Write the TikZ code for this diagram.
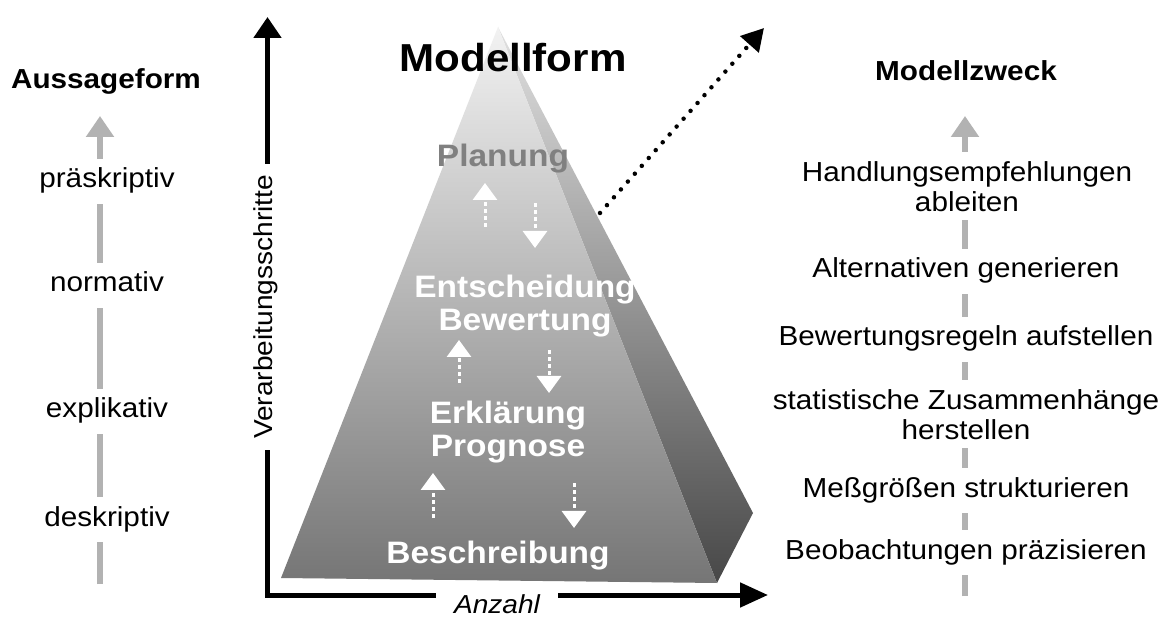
\documentclass[tikz,border=0pt]{standalone}
\usepackage{fontspec}
\setmainfont{Liberation Sans}[FakeStretch=1.08]
\usetikzlibrary{arrows.meta}

\begin{document}
\begin{tikzpicture}[
      x=1pt, y=-1pt,
      hdr/.style={font=\fontsize{27.5}{31}\selectfont\bfseries, anchor=base},
      lbl/.style={font=\fontsize{27.5}{30}\selectfont, fill=white, inner xsep=3pt, inner ysep=9pt},
      lbl1/.style={lbl, anchor=base, text height=20pt, text depth=7pt},
      lbl2/.style={lbl, anchor=north, align=center},
      lvl/.style={font=\fontsize{31}{33}\selectfont\bfseries, text=white, inner sep=0pt},
      grayarr/.style={black!30, line width=5.5pt, -{Triangle[width=27pt,length=21pt]}},
      axis/.style={line width=5pt, {Triangle[width=27pt,length=21pt]}-{Triangle[width=24pt,length=28pt]}},
      flow/.style={white, line width=3pt, dash pattern=on 4pt off 3pt, -{Triangle[width=24pt,length=17pt]}},
      link/.style={line width=4.5pt, line cap=round, dash pattern=on 0pt off 10.5pt, -{Triangle[width=24pt,length=22pt]}}
    ]

    \fill[white] (0,0) rectangle (1168,617);
    \useasboundingbox (0,0) rectangle (1168,617);

    % pyramid
    \coordinate (apex) at (498,27);
    \coordinate (fl) at (281,578);
    \coordinate (fr) at (717,583);
    \coordinate (br) at (753,513);
    \shade[top color=black!12, bottom color=black!72] (apex) -- (fr) -- (br) -- cycle;
    \shade[top color=black!5, bottom color=black!54] (apex) -- (fl) -- (fr) -- cycle;

    % axes
    \coordinate (org) at (267.5,595);
    \coordinate (ytip) at (267.5,17);
    \coordinate (xtip) at (768,595);
    \draw[axis] (ytip) -- (org) -- (xtip);
    \node[font=\fontsize{26}{30}\selectfont, rotate=90, anchor=base, fill=white,
          inner xsep=11pt, inner ysep=2pt] (verarb) at (272,307) {Verarbeitungsschritte};
    \node[font=\fontsize{26}{30}\selectfont\itshape, anchor=base, fill=white,
          inner xsep=18pt, inner ysep=5pt] (anz) at (497,613) {Anzahl};

    \node[font=\fontsize{39}{44}\selectfont\bfseries, anchor=base] (form) at (513,72) {Modellform};

    % levels
    \node[lvl, anchor=base, text=black!50] (plan) at (503,167) {Planung};
    \node[lvl, anchor=north, align=center] (ent) at (525,275) {Entscheidung\\Bewertung};
    \node[lvl, anchor=north, align=center] (erk) at (508,401) {Erklärung\\Prognose};
    \node[lvl, anchor=base] (bes) at (498,563) {Beschreibung};

    \foreach \i/\ux/\ua/\ub/\dx/\da/\db in {1/485/227/183/535/203/248,
                                          2/459/383/340/549/350/393,
                                          3/433/518/473/574/483/528} {
      \coordinate (up\i) at (\ux,\ua);
      \coordinate (upt\i) at (\ux,\ub);
      \coordinate (dn\i) at (\dx,\da);
      \coordinate (dnt\i) at (\dx,\db);
      \draw[flow] (up\i) -- (upt\i);
      \draw[flow] (dn\i) -- (dnt\i);
    }

    \coordinate (lnk) at (600,213);
    \coordinate (lnktip) at (764,28);
    \draw[link] (lnk) -- (lnktip);

    % Aussageform
    \node[hdr] (aus) at (106,89) {Aussageform};
    \coordinate (lbot) at (100,584);
    \coordinate (ltop) at (100,116);
    \draw[grayarr] (lbot) -- (ltop);
    \node[lbl1] (pra) at (107,188) {präskriptiv};
    \node[lbl1] (nor) at (107,292) {normativ};
    \node[lbl1] (expl) at (107,418) {explikativ};
    \node[lbl1] (des) at (107,526) {deskriptiv};

    % Modellzweck
    \node[hdr] (zweck) at (966,81) {Modellzweck};
    \coordinate (rbot) at (965,596);
    \coordinate (rtop) at (965,116);
    \draw[grayarr] (rbot) -- (rtop);
    \node[lbl2] (hand) at (967,152) {Handlungsempfehlungen\\ableiten};
    \node[lbl1] (alt) at (966,278) {Alternativen generieren};
    \node[lbl1] (bew) at (966,346) {Bewertungsregeln aufstellen};
    \node[lbl2] (stat) at (966,380) {statistische Zusammenhänge\\herstellen};
    \node[lbl1] (mess) at (966,497) {Meßgrößen strukturieren};
    \node[lbl1] (beo) at (966,559) {Beobachtungen präzisieren};

  \end{tikzpicture}
\end{document}
